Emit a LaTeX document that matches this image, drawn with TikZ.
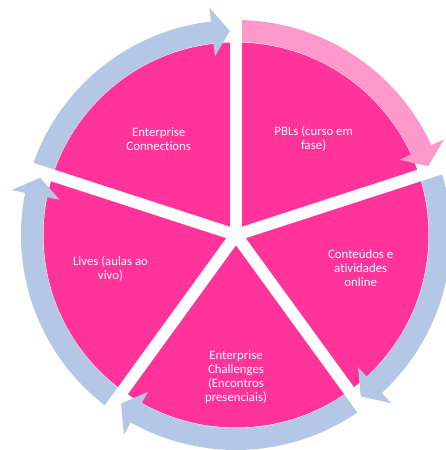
\documentclass[tikz,border=0pt]{standalone}
\usepackage{fontspec}
\setmainfont{Carlito}[Ligatures={NoCommon}]
\definecolor{piepink}{HTML}{FF3399}
\definecolor{lightpink}{HTML}{FF99CC}
\definecolor{arrowblue}{HTML}{B4C7E7}
\newcommand{\cyclearrow}[3]{% start angle, tip angle, colour
  \pgfmathsetmacro{\hb}{#2+5}
  \fill[#3] (#1:215) arc[start angle=#1, end angle=\hb, radius=215]
    -- (\hb:229) -- (#2:204) -- (\hb:180) -- (\hb:193)
    arc[start angle=\hb, end angle=#1, radius=193] -- cycle;
}
\tikzset{
  label text/.style={text=white, font=\fontsize{12.8}{14}\selectfont, align=center, inner sep=0pt},
  gapline/.style={white, line width=12pt}
}
\begin{document}
\begin{tikzpicture}[x=1pt, y=1pt]
\useasboundingbox (0,0) rectangle (445,450);
\begin{scope}[shift={(236,215)}]
  \fill[piepink] (0,0) circle[radius=192.5];
  \cyclearrow{90}{19.7}{lightpink}
  \cyclearrow{18}{-52.3}{arrowblue}
  \cyclearrow{-54}{-124.3}{arrowblue}
  \cyclearrow{-126}{-196.3}{arrowblue}
  \cyclearrow{162}{91.7}{arrowblue}
  \coordinate (c) at (0,0);
  \foreach \a in {90,18,-54,-126,162}{
    \coordinate (g\a) at (\a:240);
    \draw[gapline] (c) -- (g\a);
  }
\end{scope}
\node[label text] (conn) at (158.7,310.6) {Enterprise\\Connections};
\node[label text] (pbl) at (313.6,310.8) {PBLs (curso em\\fase)};
\node[label text] (cont) at (360.7,182.3) {Conteúdos e\\atividades\\online};
\node[label text] (chal) at (236,73) {Enterprise\\Challenges\\(Encontros\\presenciais)};
\node[label text] (lives) at (110.5,181.7) {Lives (aulas ao\\vivo)};
\end{tikzpicture}
\end{document}
